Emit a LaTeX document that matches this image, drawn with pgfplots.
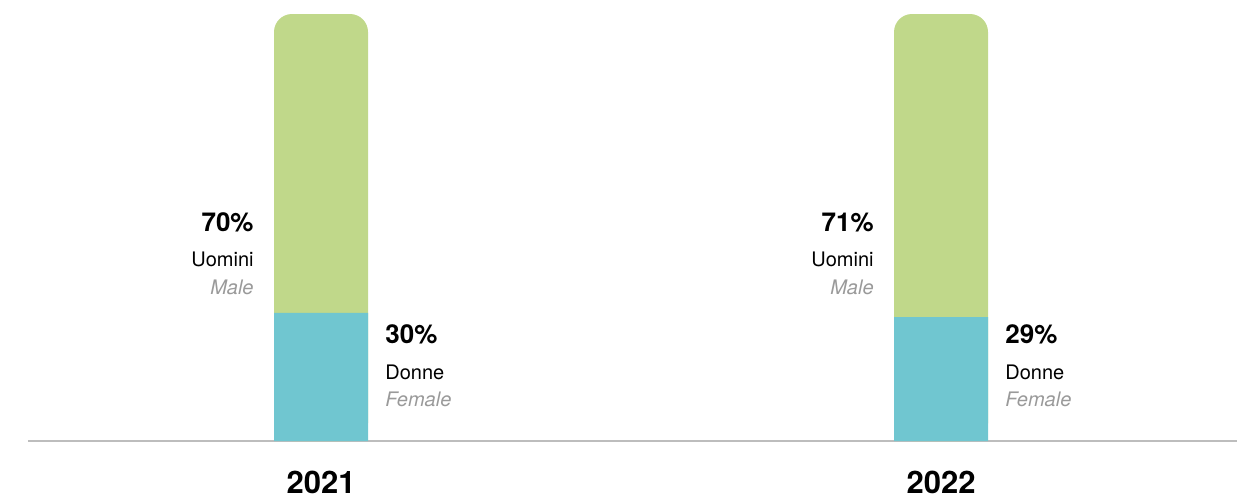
\documentclass[border=0pt]{standalone}
\usepackage{pgfplots}
\pgfplotsset{compat=1.18}
\usepackage{pgfplotstable}
\usepackage{fontspec}
\setmainfont{TeX Gyre Heros}
\definecolor{uomini}{HTML}{C0D88A}
\definecolor{donne}{HTML}{70C6D0}
\definecolor{asse}{HTML}{BDBDBD}
\definecolor{grigio}{HTML}{9A9A9A}

% x: posizione della categoria, f: donne (%), m: uomini (%)
\pgfplotstableread{
x anno f m
0 2021 30 70
1 2022 29 71
}\dati

\newcommand{\pct}{\bfseries\fontsize{13}{15}\selectfont}
\newcommand{\lab}{\fontsize{10}{12}\selectfont}
\newcommand{\eng}{\itshape\color{grigio}\fontsize{10}{12}\selectfont}

\begin{document}
\begin{tikzpicture}[
  sx/.style={anchor=base east, inner sep=0pt, xshift=-33.5pt},
  dx/.style={anchor=base west, inner sep=0pt, xshift=32pt},
]
\useasboundingbox (0,0) rectangle (621pt,250pt);
\clip (0,0) rectangle (621pt,250pt);
\begin{axis}[
  at={(14pt,29.5pt)}, anchor=south west,
  scale only axis, width=604.5pt, height=213.5pt,
  xmin=-0.4726, xmax=1.4774, ymin=0, ymax=100,
  axis x line=bottom, axis y line=none,
  axis line style={-, asse, line width=0.8pt},
  xtick=\empty, ytick=\empty,
  clip=false,
]
% uomini: barra intera (donne + uomini) con angoli arrotondati in alto
\addplot[ybar, bar width=47pt, bar shift=0pt, fill=uomini, draw=none,
  rounded corners=9pt] table[x=x, y expr=\thisrow{f}+\thisrow{m}] {\dati};
% donne sopra, dal basso
\addplot[ybar, bar width=47pt, bar shift=0pt, fill=donne, draw=none]
  table[x=x, y=f] {\dati};

% etichette 2021
\node[sx] at (axis cs:0,49) {\pct 70\%};
\node[sx] at (axis cs:0,40.8) {\lab Uomini};
\node[sx] at (axis cs:0,34.2) {\eng Male};
\node[dx] at (axis cs:0,22.8) {\pct 30\%};
\node[dx] at (axis cs:0,14.5) {\lab Donne};
\node[dx] at (axis cs:0,8.0) {\eng Female};

% etichette 2022
\node[sx] at (axis cs:1,49) {\pct 71\%};
\node[sx] at (axis cs:1,40.8) {\lab Uomini};
\node[sx] at (axis cs:1,34.2) {\eng Male};
\node[dx] at (axis cs:1,22.8) {\pct 29\%};
\node[dx] at (axis cs:1,14.5) {\lab Donne};
\node[dx] at (axis cs:1,8.0) {\eng Female};

% anni
\node[anchor=base] at (axis cs:0,-12.4) {\bfseries\fontsize{15.5}{18}\selectfont 2021};
\node[anchor=base] at (axis cs:1,-12.4) {\bfseries\fontsize{15.5}{18}\selectfont 2022};
\end{axis}
\end{tikzpicture}
\end{document}
